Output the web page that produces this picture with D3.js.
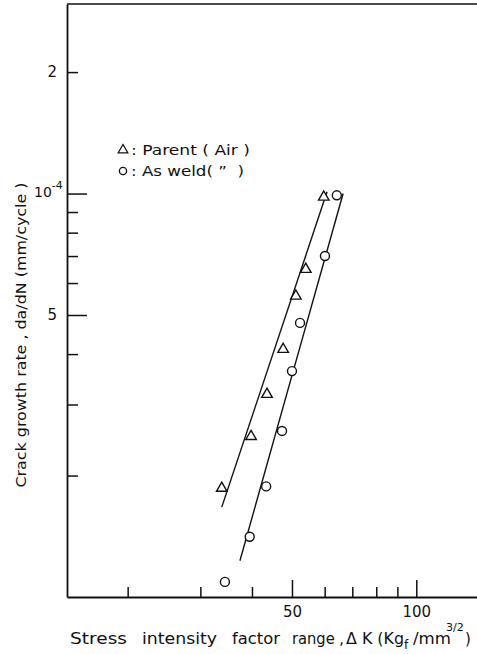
<!DOCTYPE html>
<html><head><meta charset="utf-8">
<script src="https://cdn.jsdelivr.net/npm/d3@7"></script>
<style>
html,body{margin:0;padding:0;background:#fff;}
svg{display:block;}
text{font-family:"DejaVu Sans","Liberation Sans",sans-serif;fill:#111;}
</style></head>
<body>
<script>
// ---- data ----
const parentK   = [33.8, 39.8, 43.5, 47.6, 51.1, 54.0, 59.7];
const parentDadN= [1.86e-5, 2.50e-5, 3.18e-5, 4.11e-5, 5.57e-5, 6.49e-5, 9.8e-5];
const weldK     = [34.4, 39.5, 43.3, 47.3, 50.0, 52.3, 60.1, 64.2];
const weldDadN  = [1.09e-5, 1.41e-5, 1.88e-5, 2.58e-5, 3.63e-5, 4.78e-5, 7.0e-5, 9.9e-5];
const parentFitK = [33.8, 60.8];
const parentFitD = [1.67e-5, 1.01e-4];
const weldFitK   = [37.4, 66.5];
const weldFitD   = [1.23e-5, 1.0e-4];
const xTicks = [20, 30, 40, 50, 60, 70, 80, 90, 100];
const xMajor = [50, 100];
const xTickLabels = {50: "50", 100: "100"};
const yTicks = [2e-4, 1e-4, 9e-5, 8e-5, 7e-5, 6e-5, 5e-5, 4e-5, 3e-5, 2e-5];
const yMajor = [1e-4, 5e-5];
const yTickLabels = {"0.0002": "2", "0.00005": "5"};
const legendLabels = [": Parent ( Air )", ": As weld( \u201d  )"];
const xTitleWords = ["Stress", "intensity", "factor", "range ,", "\u0394 K (Kg"];

// ---- layout ----
const W = 477, H = 654;
const svg = d3.select("body").append("svg").attr("width", W).attr("height", H);
const x = d3.scaleLog().domain([14.26, 140.3]).range([67, 477]);
const y = d3.scaleLog().domain([1e-5, 2.95e-4]).range([597, 4]);
const L = 67, B = 597, T = 4;

// frame top line
svg.append("line").attr("x1", L).attr("x2", W + 5).attr("y1", T).attr("y2", T)
  .attr("stroke", "#111").attr("stroke-width", 1.6);

function styleAxis(g) {
  g.selectAll("path.domain").attr("stroke", "#111").attr("stroke-width", 1.8);
  g.selectAll(".tick line").attr("stroke", "#111").attr("stroke-width", 1.5);
  g.selectAll("text").attr("font-size", 15).attr("fill", "#111")
   .attr("font-family", "DejaVu Sans, sans-serif");
}

// x axis
const gx = svg.append("g").attr("transform", `translate(0,${B})`);
gx.call(d3.axisBottom(x).tickValues(xTicks.filter(d => !xMajor.includes(d)))
  .tickSize(-10).tickSizeOuter(0).tickFormat(""));
const gx2 = svg.append("g").attr("transform", `translate(0,${B})`);
gx2.call(d3.axisBottom(x).tickValues(xMajor).tickSize(-17).tickSizeOuter(0)
  .tickPadding(9).tickFormat(d => xTickLabels[d]));
styleAxis(gx); styleAxis(gx2);
gx2.select("path.domain").remove();

// y axis
const gy = svg.append("g").attr("transform", `translate(${L},0)`);
gy.call(d3.axisLeft(y).tickValues(yTicks.filter(d => !yMajor.includes(d)))
  .tickSize(-11).tickSizeOuter(0).tickPadding(10)
  .tickFormat(d => yTickLabels[String(d)] || ""));
const gy2 = svg.append("g").attr("transform", `translate(${L},0)`);
gy2.call(d3.axisLeft(y).tickValues(yMajor).tickSize(-20).tickSizeOuter(0)
  .tickPadding(10).tickFormat(d => yTickLabels[String(d)] || ""));
styleAxis(gy); styleAxis(gy2);
gy2.select("path.domain").remove();
// 10^-4 label
const t4 = svg.append("text").attr("x", 34).attr("y", y(1e-4) + 3).attr("font-size", 14);
t4.append("tspan").text("10");
t4.append("tspan").attr("dy", -8).attr("dx", 0).attr("font-size", 11).text("-4");

// fit lines
const line = d3.line().x(d => x(d[0])).y(d => y(d[1]));
[[parentFitK, parentFitD], [weldFitK, weldFitD]].forEach(([ks, ds]) => {
  svg.append("path").datum(ks.map((k, i) => [k, ds[i]])).attr("d", line)
    .attr("fill", "none").attr("stroke", "#111").attr("stroke-width", 1.4);
});

// markers
const tri = d3.symbol().type(d3.symbolTriangle).size(48);
svg.append("g").selectAll("path").data(parentK.map((k, i) => [k, parentDadN[i]]))
  .join("path").attr("d", tri)
  .attr("transform", d => `translate(${x(d[0])},${y(d[1])})`)
  .attr("fill", "#fff").attr("stroke", "#111").attr("stroke-width", 1.4);
svg.append("g").selectAll("circle").data(weldK.map((k, i) => [k, weldDadN[i]]))
  .join("circle").attr("cx", d => x(d[0])).attr("cy", d => y(d[1])).attr("r", 4.5)
  .attr("fill", "#fff").attr("stroke", "#111").attr("stroke-width", 1.4);

// legend
const lg = svg.append("g");
const legY = [150, 171];
lg.append("path").attr("d", d3.symbol().type(d3.symbolTriangle).size(40))
  .attr("transform", `translate(123,${legY[0]})`)
  .attr("fill", "none").attr("stroke", "#111").attr("stroke-width", 1.3);
lg.append("circle").attr("cx", 123).attr("cy", legY[1]).attr("r", 3.6)
  .attr("fill", "none").attr("stroke", "#111").attr("stroke-width", 1.3);
const legLen = [119, 113];
legendLabels.forEach((s, i) => {
  lg.append("text").attr("x", 131).attr("y", legY[i] + 5).attr("font-size", 14.5)
    .attr("xml:space", "preserve")
    .attr("textLength", legLen[i]).attr("lengthAdjust", "spacingAndGlyphs").text(s);
});

// y axis title
svg.append("text").attr("transform", `translate(26,335) rotate(-90)`)
  .attr("text-anchor", "middle").attr("font-size", 13.5)
  .attr("textLength", 305).attr("lengthAdjust", "spacingAndGlyphs")
  .text("Crack  growth  rate , da/dN (mm/cycle )");

// x axis title
const wordX = [70, 142, 232, 292, 346];
const wordLen = [57, 75, 48, 52, 58];
const tY = 644;
xTitleWords.forEach((w, i) => {
  svg.append("text").attr("x", wordX[i]).attr("y", tY).attr("font-size", 15)
    .attr("textLength", wordLen[i]).attr("lengthAdjust", "spacingAndGlyphs").text(w);
});
svg.append("text").attr("x", 404).attr("y", tY + 5).attr("font-size", 12).text("f");
svg.append("text").attr("x", 413).attr("y", tY).attr("font-size", 15)
  .attr("textLength", 38).attr("lengthAdjust", "spacingAndGlyphs").text("/mm");
svg.append("text").attr("x", 446).attr("y", tY - 13).attr("font-size", 11).text("3/2");
svg.append("text").attr("x", 465).attr("y", tY).attr("font-size", 15).text(")");
</script>
</body></html>
